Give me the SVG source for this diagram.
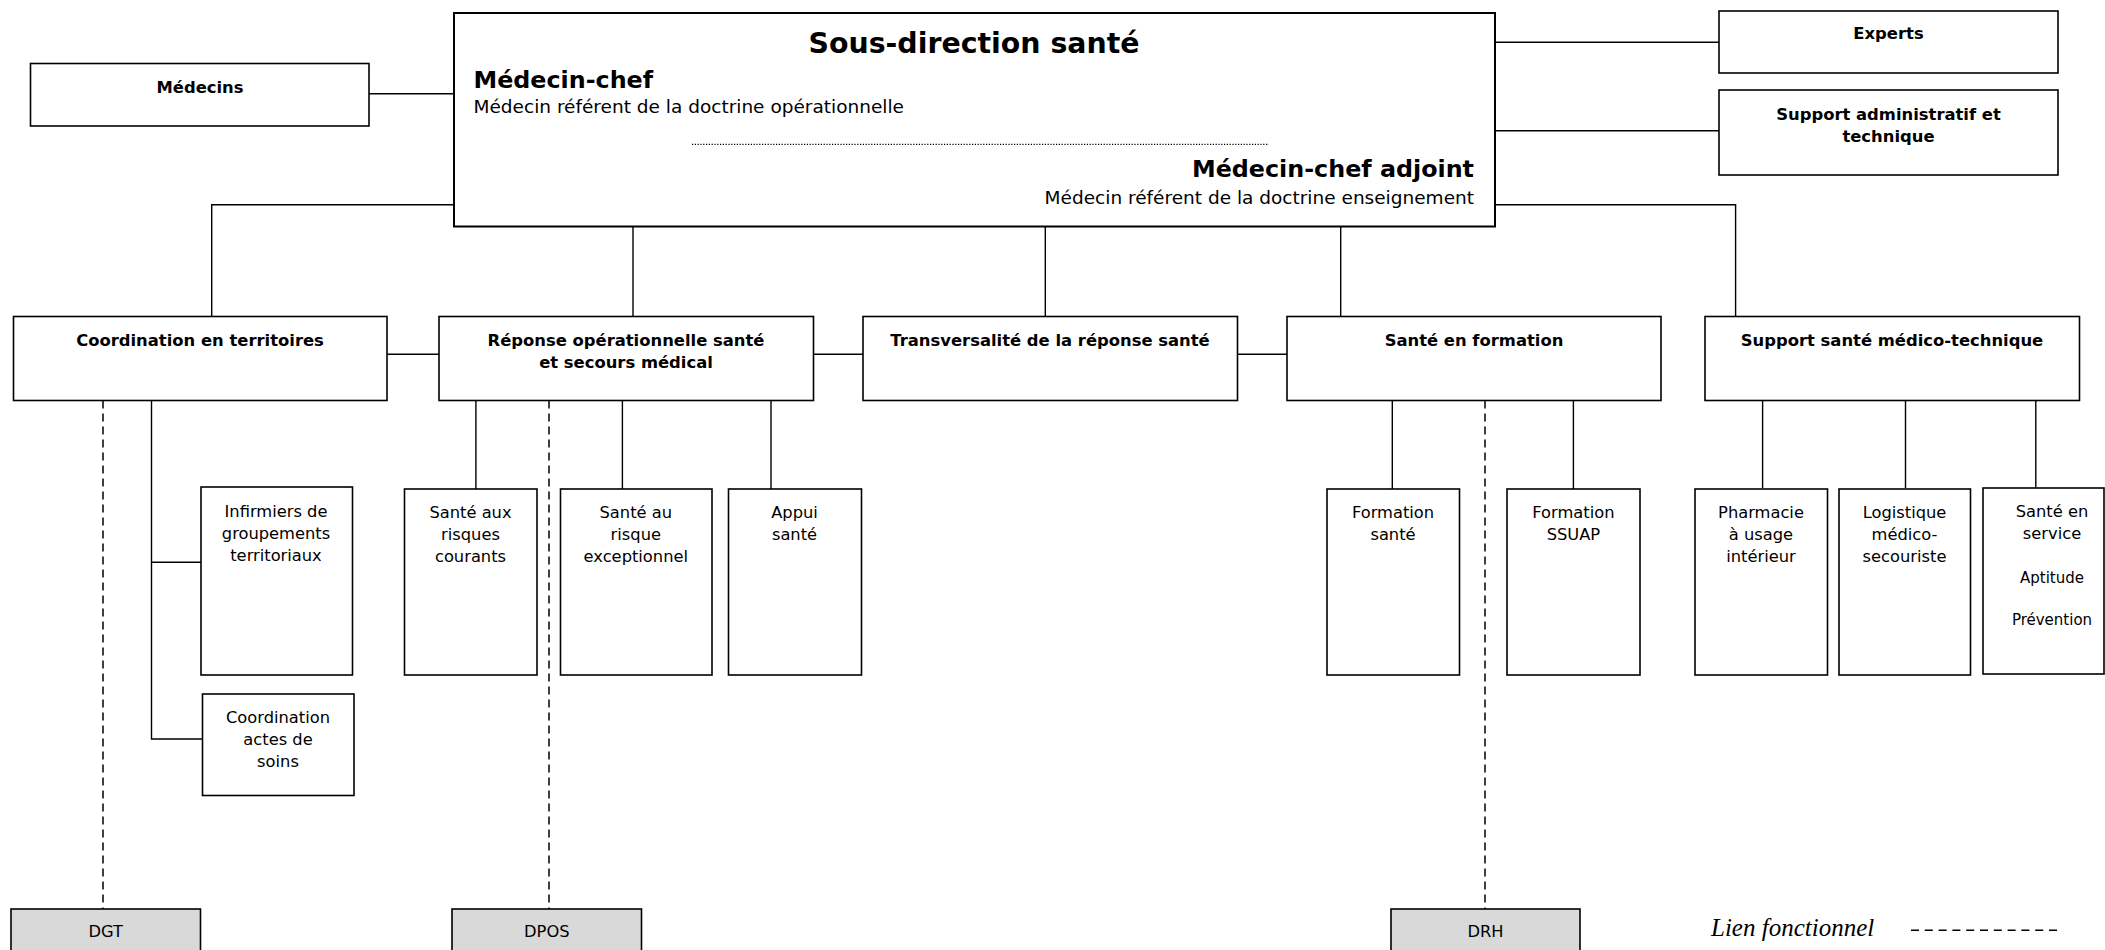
<svg xmlns="http://www.w3.org/2000/svg" width="2105" height="950" viewBox="0 0 2105 950">
<style>
.box{fill:#ffffff;stroke:#000000;stroke-width:1.6}
.ext{fill:#d9d9d9;stroke:#000000;stroke-width:1.6}
.ln{fill:none;stroke:#000000;stroke-width:1.4}
.dash{fill:none;stroke:#000000;stroke-width:1.5;stroke-dasharray:8 5}
.dot{fill:none;stroke:#000000;stroke-width:1.3;stroke-dasharray:1.2 1.6}
text{font-family:"DejaVu Sans","Liberation Sans",sans-serif;fill:#000000}
.b{font-weight:bold;font-size:16.4px;text-anchor:middle}
.r{font-size:16.3px;text-anchor:middle}
.s{font-size:15px;text-anchor:middle}
.h1{font-weight:bold;font-size:28.4px;text-anchor:middle}
.h2{font-weight:bold;font-size:23.8px}
.h3{font-size:18.5px}
.leg{font-family:"Liberation Serif",serif;font-style:italic;font-size:25px}
</style>
<rect width="2105" height="950" fill="#ffffff"/>
<g id="connectors">
<path class="ln" d="M369,93.7H454"/>
<path class="ln" d="M1495,42.3H1719"/>
<path class="ln" d="M1495,130.7H1719"/>
<path class="ln" d="M454,204.7H211.7V316.5"/>
<path class="ln" d="M633,226.5V316.5"/>
<path class="ln" d="M1045.3,226.5V316.5"/>
<path class="ln" d="M1340.7,226.5V316.5"/>
<path class="ln" d="M1495,204.7H1735.6V316.5"/>
<path class="ln" d="M387,354.3H439"/>
<path class="ln" d="M813.5,354.3H863"/>
<path class="ln" d="M1237.5,354.3H1287"/>
<path class="ln" d="M151.5,400.5V739H202.5M151.5,562.3H201"/>
<path class="ln" d="M475.9,400.5V489M622.4,400.5V489M771,400.5V489"/>
<path class="ln" d="M1392.3,400.5V489M1573.4,400.5V489"/>
<path class="ln" d="M1762.6,400.5V488M1905.5,400.5V488M2035.8,400.5V488"/>
<path class="dash" d="M103,400.5V909"/>
<path class="dash" d="M549,400.5V909"/>
<path class="dash" d="M1485,400.5V909"/>
</g>
<g id="main">
<rect class="box" x="454" y="13" width="1041" height="213.5" style="stroke-width:2"/>
<text class="h1" x="974" y="53">Sous-direction santé</text>
<text class="h2" x="473.5" y="88.3">Médecin-chef</text>
<text class="h3" x="473.5" y="113">Médecin référent de la doctrine opérationnelle</text>
<path class="dot" d="M692,144.3H1269"/>
<text class="h2" x="1474" y="176.7" text-anchor="end">Médecin-chef adjoint</text>
<text class="h3" x="1474" y="204" text-anchor="end">Médecin référent de la doctrine enseignement</text>
</g>
<g id="medecins">
<rect class="box" x="30.5" y="63.5" width="338.5" height="62.5"/>
<text class="b" x="200" y="92.5">Médecins</text>
</g>
<g id="experts">
<rect class="box" x="1719" y="11" width="339" height="62"/>
<text class="b" x="1888.5" y="39.3">Experts</text>
</g>
<g id="support-admin">
<rect class="box" x="1719" y="90" width="339" height="85"/>
<text class="b" x="1888.5" y="120">Support administratif et</text>
<text class="b" x="1888.5" y="141.8">technique</text>
</g>
<g id="coordination">
<rect class="box" x="13.5" y="316.5" width="373.5" height="84"/>
<text class="b" x="200" y="345.5">Coordination en territoires</text>
</g>
<g id="reponse">
<rect class="box" x="439" y="316.5" width="374.5" height="84"/>
<text class="b" x="626" y="345.5">Réponse opérationnelle santé</text>
<text class="b" x="626" y="368">et secours médical</text>
</g>
<g id="transversalite">
<rect class="box" x="863" y="316.5" width="374.5" height="84"/>
<text class="b" x="1050" y="345.5">Transversalité de la réponse santé</text>
</g>
<g id="sante-formation">
<rect class="box" x="1287" y="316.5" width="374" height="84"/>
<text class="b" x="1474" y="345.5">Santé en formation</text>
</g>
<g id="support-sante">
<rect class="box" x="1705" y="316.5" width="374.5" height="84"/>
<text class="b" x="1892" y="345.5">Support santé médico-technique</text>
</g>
<g id="infirmiers">
<rect class="box" x="201" y="487" width="151.5" height="188"/>
<text class="r" x="276" y="516.5">Infirmiers de</text>
<text class="r" x="276" y="538.8">groupements</text>
<text class="r" x="276" y="561.1">territoriaux</text>
</g>
<g id="coordination-actes">
<rect class="box" x="202.5" y="694" width="151.5" height="101.5"/>
<text class="r" x="278" y="722.7">Coordination</text>
<text class="r" x="278" y="745">actes de</text>
<text class="r" x="278" y="767.3">soins</text>
</g>
<g id="risques-courants">
<rect class="box" x="404.5" y="489" width="132.5" height="186"/>
<text class="r" x="470.5" y="517.7">Santé aux</text>
<text class="r" x="470.5" y="540">risques</text>
<text class="r" x="470.5" y="562.3">courants</text>
</g>
<g id="risque-exceptionnel">
<rect class="box" x="560.5" y="489" width="151.5" height="186"/>
<text class="r" x="635.8" y="517.7">Santé au</text>
<text class="r" x="635.8" y="540">risque</text>
<text class="r" x="635.8" y="562.3">exceptionnel</text>
</g>
<g id="appui">
<rect class="box" x="728.5" y="489" width="133" height="186"/>
<text class="r" x="794.5" y="517.7">Appui</text>
<text class="r" x="794.5" y="540">santé</text>
</g>
<g id="formation-sante">
<rect class="box" x="1327" y="489" width="132.5" height="186"/>
<text class="r" x="1393" y="517.7">Formation</text>
<text class="r" x="1393" y="540">santé</text>
</g>
<g id="formation-ssuap">
<rect class="box" x="1507" y="489" width="133" height="186"/>
<text class="r" x="1573.4" y="517.7">Formation</text>
<text class="r" x="1573.4" y="540">SSUAP</text>
</g>
<g id="pharmacie">
<rect class="box" x="1695" y="489" width="132.5" height="186"/>
<text class="r" x="1761" y="517.7">Pharmacie</text>
<text class="r" x="1761" y="540">à usage</text>
<text class="r" x="1761" y="562.3">intérieur</text>
</g>
<g id="logistique">
<rect class="box" x="1839" y="489" width="131.5" height="186"/>
<text class="r" x="1904.5" y="517.7">Logistique</text>
<text class="r" x="1904.5" y="540">médico-</text>
<text class="r" x="1904.5" y="562.3">secouriste</text>
</g>
<g id="sante-service">
<rect class="box" x="1983" y="488" width="121" height="186"/>
<text class="r" x="2052" y="516.7">Santé en</text>
<text class="r" x="2052" y="539">service</text>
<text class="s" x="2052" y="582.7">Aptitude</text>
<text class="s" x="2052" y="625">Prévention</text>
</g>
<g id="dgt">
<rect class="ext" x="11" y="909" width="189.5" height="60"/>
<text class="r" x="105.8" y="937.3">DGT</text>
</g>
<g id="dpos">
<rect class="ext" x="452" y="909" width="189.5" height="60"/>
<text class="r" x="546.8" y="937.3">DPOS</text>
</g>
<g id="drh">
<rect class="ext" x="1391" y="909" width="189" height="60"/>
<text class="r" x="1485.5" y="937.3">DRH</text>
</g>
<g id="legend">
<text class="leg" x="1711" y="936">Lien fonctionnel</text>
<path class="dash" d="M1911,930.3H2062" style="stroke-dasharray:8 5.8"/>
</g>
</svg>
